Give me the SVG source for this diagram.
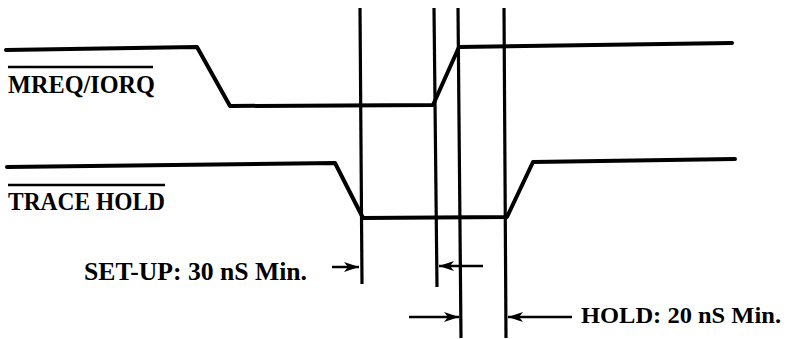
<svg xmlns="http://www.w3.org/2000/svg" width="788" height="339" viewBox="0 0 788 339">
  <defs>
    <style>
      .sig{fill:none;stroke:#000;stroke-width:4;stroke-linejoin:round;stroke-linecap:round}
      .vl{fill:none;stroke:#000;stroke-width:3.2}
      .ov{stroke:#000;stroke-width:2.5}
      .arr{stroke:#000;stroke-width:2.5;marker-end:url(#ah)}
      .lbl{font-family:"Liberation Serif",serif;font-weight:bold;font-size:25px;fill:#000}
      .ann{font-family:"Liberation Serif",serif;font-weight:bold;font-size:24px;fill:#000}
    </style>
    <marker id="ah" viewBox="0 0 15 10" refX="15" refY="5" markerWidth="15" markerHeight="10" markerUnits="userSpaceOnUse" orient="auto">
      <path d="M0,0 L15,5 L0,10 L4,5 Z" fill="#000"/>
    </marker>
  </defs>
  <rect width="788" height="339" fill="#fff"/>
  <g id="mreq">
    <polyline class="sig" points="6,50 197,47 230,106 433,105 459,47 732,43"/>
    <line class="ov" x1="8" y1="67" x2="153" y2="67"/>
    <text class="lbl" x="8" y="93" textLength="147" lengthAdjust="spacingAndGlyphs">MREQ/IORQ</text>
  </g>
  <g id="tracehold">
    <polyline class="sig" points="7,167 335,163 363,218 507,217 533,162 735,159"/>
    <line class="ov" x1="8" y1="185" x2="165" y2="185"/>
    <text class="lbl" x="8" y="210" textLength="157" lengthAdjust="spacingAndGlyphs">TRACE HOLD</text>
  </g>
  <g id="timing-lines">
    <line class="vl" x1="360" y1="8" x2="362" y2="284"/>
    <line class="vl" x1="434" y1="8" x2="437" y2="287"/>
    <line class="vl" x1="458" y1="8" x2="461" y2="338"/>
    <line class="vl" x1="504" y1="8" x2="506" y2="338"/>
  </g>
  <g id="connectors">
    <line class="arr" x1="332" y1="267" x2="359" y2="267"/>
    <line class="arr" x1="483" y1="266" x2="439" y2="266"/>
    <line class="arr" x1="409" y1="317" x2="459" y2="317"/>
    <line class="arr" x1="572" y1="317" x2="508" y2="317"/>
  </g>
  <g id="setup-label">
    <text class="ann" x="84" y="280" textLength="223" lengthAdjust="spacingAndGlyphs" style="font-size:25px">SET-UP: 30 nS Min.</text>
  </g>
  <g id="hold-label">
    <text class="ann" x="581" y="323" textLength="200" lengthAdjust="spacingAndGlyphs">HOLD: 20 nS Min.</text>
  </g>
</svg>
